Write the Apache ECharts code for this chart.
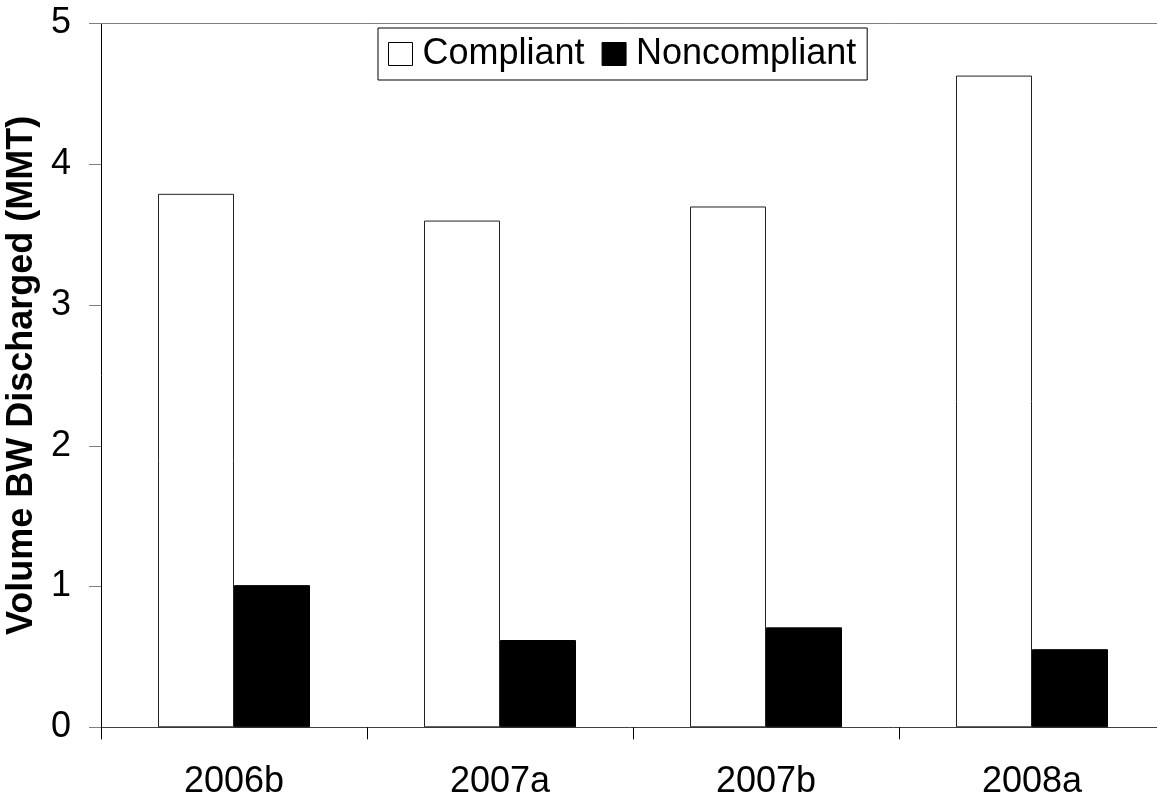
<!DOCTYPE html>
<html>
<head>
<meta charset="utf-8">
<script src="https://cdn.jsdelivr.net/npm/echarts@6/dist/echarts.min.js"></script>
<style>
html,body{margin:0;padding:0;background:#fff;}
#chart{width:1157px;height:798px;}
</style>
</head>
<body>
<div id="chart"></div>
<script>
const categories = ['2006b', '2007a', '2007b', '2008a'];
const compliant = [3.79, 3.60, 3.70, 4.63];
const noncompliant = [1.01, 0.62, 0.71, 0.555];
const yTicks = [0, 1, 2, 3, 4, 5];
const seriesNames = ['Compliant', 'Noncompliant'];
const yTitle = 'Volume BW Discharged (MMT)';

const FONT = '"Liberation Sans", Arial, sans-serif';
const chart = echarts.init(document.getElementById('chart'), null, {renderer: 'canvas'});
chart.setOption({
  animation: false,
  backgroundColor: '#fff',
  textStyle: {fontFamily: FONT},
  grid: {left: 101, top: 23.5, width: 1064, height: 703.8, containLabel: false, outerBoundsMode: 'none'},
  legend: {
    left: 378, top: 28,
    padding: [8, 11, 8, 10],
    itemGap: 17,
    itemWidth: 24, itemHeight: 23,
    borderColor: '#000', borderWidth: 1,
    backgroundColor: '#fff',
    textStyle: {fontFamily: FONT, fontSize: 36, color: '#000', padding: [0, 0, 0, 5], lineHeight: 36},
    data: [
      {name: seriesNames[0], icon: 'rect', itemStyle: {color: '#fff', borderColor: '#000', borderWidth: 1}},
      {name: seriesNames[1], icon: 'rect', itemStyle: {color: '#000', borderColor: '#000', borderWidth: 1}}
    ]
  },
  xAxis: [{
    type: 'category',
    data: categories,
    axisLine: {lineStyle: {color: '#404040', width: 1}},
    axisTick: {show: true, length: 12, inside: false, lineStyle: {color: '#000'}},
    axisLabel: {fontFamily: FONT, fontSize: 36, color: '#000', margin: 37},
    splitLine: {show: false}
  }, {
    type: 'category',
    position: 'top',
    data: categories,
    axisLine: {show: true, lineStyle: {color: '#808080', width: 1}},
    axisTick: {show: false},
    axisLabel: {show: false}
  }],
  yAxis: {
    type: 'value',
    min: yTicks[0], max: yTicks[yTicks.length - 1], interval: 1,
    name: yTitle,
    nameLocation: 'middle',
    nameGap: 56,
    nameTextStyle: {fontFamily: FONT, fontSize: 36, fontWeight: 'bold', color: '#000'},
    axisLine: {show: true, lineStyle: {color: '#000', width: 1}},
    axisTick: {show: true, length: 12, lineStyle: {color: '#808080'}},
    axisLabel: {fontFamily: FONT, fontSize: 36, color: '#000', margin: 30},
    splitLine: {show: false}
  },
  series: [{
    name: seriesNames[0],
    type: 'bar',
    data: compliant,
    barWidth: 76,
    barGap: '0%',
    itemStyle: {color: '#fff', borderColor: '#222', borderWidth: 1}
  }, {
    name: seriesNames[1],
    type: 'bar',
    data: noncompliant,
    barWidth: 76,
    barGap: '0%',
    itemStyle: {color: '#000', borderColor: '#000', borderWidth: 1}
  }]
});
</script>
</body>
</html>
